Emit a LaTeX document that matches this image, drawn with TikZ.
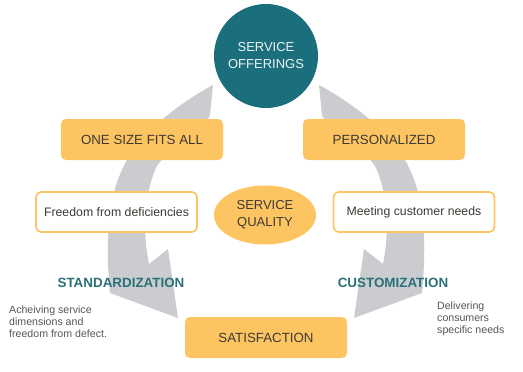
\documentclass[tikz,border=0pt]{standalone}
\usepackage{fontspec}
\setmainfont{Liberation Sans}
\usepackage{xcolor}
\usepackage{tikz}
\usetikzlibrary{shapes.geometric}
\definecolor{tealdark}{HTML}{1B6F7C}
\definecolor{tealtext}{HTML}{2A7078}
\definecolor{boxorange}{HTML}{FDC462}
\definecolor{arrowgray}{HTML}{CBCCCF}
\definecolor{labeltext}{HTML}{3D3A35}
\definecolor{notetext}{HTML}{555555}
% tapered curved arrow, left side (pixel units, y down)
\newcommand{\bendarrow}{%
  (213,85) .. controls (185,100) and (145,128) .. (127,160)
  .. controls (110,190) and (104,228) .. (110,293)
  -- (178,318) -- (168,249) -- (149,264)
  .. controls (142,230) and (145,190) .. (157,166)
  .. controls (175,140) and (206,128) .. (210,115) -- cycle}

\begin{document}
\begin{tikzpicture}[x=1pt,y=-1pt,
  hub/.style={circle,fill=tealdark,minimum size=104pt,inner sep=0pt,align=center,
              text=white!92!tealdark,font=\fontsize{13}{17}\selectfont},
  stage/.style={rectangle,rounded corners=5pt,fill=boxorange,minimum width=162pt,
                minimum height=41pt,text=labeltext,font=\fontsize{13.3}{16}\selectfont},
  trait/.style={rectangle,rounded corners=5pt,draw=boxorange,line width=1.6pt,fill=white,
                minimum width=161pt,minimum height=40pt,text=labeltext,
                font=\fontsize{12.3}{15}\selectfont},
  core/.style={ellipse,fill=boxorange,minimum width=102pt,minimum height=59pt,inner sep=0pt,
               align=center,text=labeltext,font=\fontsize{13}{17}\selectfont},
  mode/.style={text=tealtext,font=\fontsize{13.4}{16}\selectfont\bfseries},
  note/.style={align=left,text=notetext,inner sep=0pt,font=\fontsize{10.6}{12}\selectfont}
]
  \useasboundingbox (0,0) rectangle (523,372);

  % Gray cycle arrows
  \fill[arrowgray] \bendarrow;
  \begin{scope}[xshift=532pt,xscale=-1]
    \fill[arrowgray] \bendarrow;
  \end{scope}

  % Top and centre
  \node[hub]  (offer)   at (266,56)    {SERVICE\\OFFERINGS};
  \node[core] (quality) at (265,215)   {SERVICE\\QUALITY};

  % Left branch
  \node[stage] (onesize) at (142,139.5) {ONE SIZE FITS ALL};
  \node[trait] (freedom) at (116.5,212) {Freedom from deficiencies};
  \node[mode]  (standard) at (121,283)  {STANDARDIZATION};
  \node[note,anchor=west] (stdnote) at (9,322)
    {Acheiving service\\dimensions and\\freedom from defect.};

  % Right branch
  \node[stage] (personal) at (384,139.5) {PERSONALIZED};
  \node[trait] (meeting)  at (414,212)   {Meeting customer needs};
  \node[mode]  (custom)   at (393,283)   {CUSTOMIZATION};
  \node[note,anchor=west] (cusnote) at (437,319)
    {Delivering\\consumers\\specific needs};

  % Bottom
  \node[stage] (satisf) at (266,337.5) {SATISFACTION};
\end{tikzpicture}
\end{document}
